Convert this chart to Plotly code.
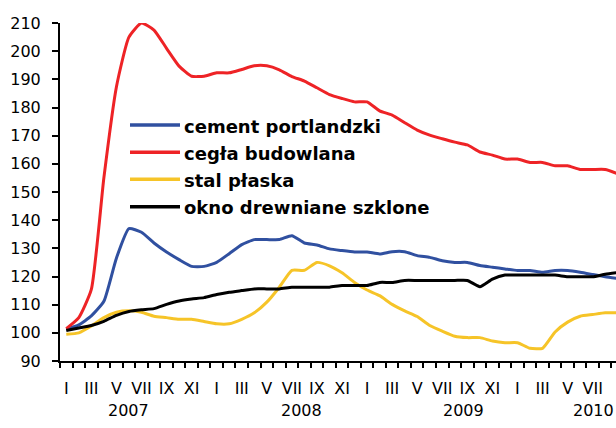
import plotly.graph_objects as go

# Monthly price indices (Jan 2007 = ~100), months I-XII per year
roman_months = ["I", "II", "III", "IV", "V", "VI", "VII", "VIII", "IX", "X", "XI", "XII"]
years = ["2007", "2008", "2009", "2010"]
n_points = 45
periods = [f"{m} {y}" for y in years for m in roman_months][:n_points]

cement_portlandzki = [
    101.2, 102.8, 106.0, 111.2, 126.5, 137.0, 135.7, 131.9, 128.7, 126.0, 123.6, 123.6,
    125.0, 128.1, 131.3, 133.1, 133.1, 133.1, 134.5, 131.9, 131.2, 129.8, 129.2, 128.7,
    128.7, 128.0, 128.8, 128.8, 127.4, 126.8, 125.6, 125.0, 125.0, 123.9, 123.3, 122.7,
    122.1, 122.1, 121.5, 122.1, 122.1, 121.5, 120.7, 119.9, 119.3,
]
cegla_budowlana = [
    101.5, 105.4, 115.4, 155.0, 187.3, 205.0, 210.0, 207.5, 201.0, 194.7, 191.1, 191.1,
    192.3, 192.3, 193.5, 194.8, 194.8, 193.4, 191.0, 189.4, 187.0, 184.6, 183.2, 182.0,
    182.0, 178.8, 177.3, 174.6, 172.0, 170.2, 168.9, 167.7, 166.7, 164.2, 163.1, 161.7,
    161.7, 160.5, 160.5, 159.3, 159.3, 158.0, 158.0, 158.0, 156.5,
]
stal_plaska = [
    99.5, 100.0, 102.4, 105.4, 107.3, 107.8, 107.3, 105.9, 105.4, 104.8, 104.8, 104.0,
    103.2, 103.2, 104.8, 107.1, 110.9, 116.2, 122.2, 122.2, 125.0, 123.8, 121.3, 117.9,
    115.2, 113.2, 110.1, 107.8, 105.8, 102.6, 100.6, 98.8, 98.3, 98.3, 97.1, 96.5,
    96.5, 94.5, 94.5, 100.3, 103.8, 105.9, 106.5, 107.1, 107.1,
]
okno_drewniane = [
    100.8, 101.7, 102.6, 104.1, 106.2, 107.6, 108.2, 108.6, 110.1, 111.3, 112.0, 112.5,
    113.6, 114.4, 115.0, 115.6, 115.6, 115.6, 116.2, 116.2, 116.2, 116.2, 116.8, 116.8,
    116.8, 117.9, 117.9, 118.6, 118.6, 118.6, 118.6, 118.6, 118.6, 116.4, 119.1, 120.5,
    120.5, 120.5, 120.5, 120.5, 119.9, 119.9, 119.9, 120.8, 121.4,
]

series = [
    ("cement portlandzki", cement_portlandzki, "#3050A0"),
    ("cegła budowlana", cegla_budowlana, "#EE2326"),
    ("stal płaska", stal_plaska, "#F6C428"),
    ("okno drewniane szklone", okno_drewniane, "#000000"),
]

W, H = 616, 428
M_L, M_R, M_T, M_B = 60, 0, 23, 67
X_RANGE = [-0.5, 43.86]
Y_RANGE = [90, 210]

x_idx = list(range(len(periods)))

fig = go.Figure()
for name, values, color in series:
    fig.add_trace(go.Scatter(
        x=x_idx, y=values, name=name, mode="lines",
        line=dict(color=color, width=3, shape="spline", smoothing=0.5),
        showlegend=False,
    ))

# month labels on every other month, tick marks on month boundaries
label_vals = [i for i in x_idx if i % 2 == 0]
label_text = [periods[i].split(" ")[0] for i in label_vals]
boundaries = [i - 0.5 for i in x_idx]

tick_font = dict(family="DejaVu Sans", size=16, color="#000000")

fig.update_layout(
    width=W, height=H,
    margin=dict(l=M_L, r=M_R, t=M_T, b=M_B),
    paper_bgcolor="white", plot_bgcolor="white",
    xaxis=dict(
        range=X_RANGE, tickmode="array", tickvals=label_vals, ticktext=label_text,
        ticks="", showgrid=False, zeroline=False,
        showline=True, linecolor="black", linewidth=2,
        tickfont=tick_font, ticklabelstandoff=12,
        minor=dict(tickmode="array", tickvals=boundaries, ticks="outside",
                   ticklen=5, tickwidth=1.5, tickcolor="black", showgrid=False),
    ),
    yaxis=dict(
        range=Y_RANGE, tickmode="linear", tick0=90, dtick=10,
        ticks="outside", ticklen=6, tickwidth=1.5, tickcolor="black",
        showgrid=False, zeroline=False,
        showline=True, linecolor="black", linewidth=2,
        tickfont=tick_font, ticklabelstandoff=8,
    ),
)

plot_w = W - M_L - M_R
plot_h = H - M_T - M_B


def px_x(px):
    return (px - M_L) / plot_w


def px_y(py):
    return (H - M_B - py) / plot_h


# year labels below the month labels
year_centers_px = [128.5, 301.0, 463.3, 593.0]
for year, cx in zip(years, year_centers_px):
    fig.add_annotation(
        x=px_x(cx), y=px_y(410), xref="paper", yref="paper",
        text=year, showarrow=False, xanchor="center", yanchor="middle",
        font=tick_font,
    )

# legend block inside the plot
legend_rows_px = [125.0, 152.2, 179.2, 206.7]
for (name, _, color), ry in zip(series, legend_rows_px):
    fig.add_shape(
        type="line", xref="paper", yref="paper",
        x0=px_x(130), x1=px_x(180), y0=px_y(ry), y1=px_y(ry),
        line=dict(color=color, width=3.5),
    )
    fig.add_annotation(
        x=px_x(182), y=px_y(ry + 1), xref="paper", yref="paper",
        text=name, showarrow=False, xanchor="left", yanchor="middle",
        font=dict(family="DejaVu Sans", size=18, weight="bold", color="#000000"),
    )

fig.write_html("out.html")
